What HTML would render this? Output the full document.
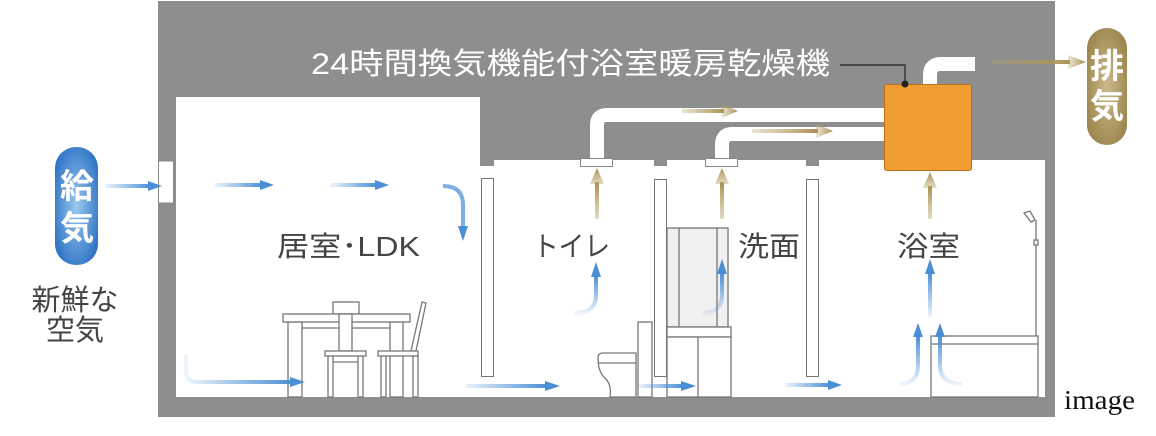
<!DOCTYPE html>
<html><head><meta charset="utf-8"><style>
html,body{margin:0;padding:0;background:#fff;}
svg{display:block}
.s{font-family:"Liberation Sans","Noto Sans CJK JP",sans-serif;}
</style></head><body>
<svg width="1156" height="436" viewBox="0 0 1156 436" xmlns="http://www.w3.org/2000/svg">
<defs>
<linearGradient id="bl" x1="0" x2="1" y1="0" y2="0"><stop offset="0" stop-color="#4a8fd6" stop-opacity="0.1"/><stop offset="1" stop-color="#4a8fd6"/></linearGradient>
<linearGradient id="blv" x1="0" x2="0" y1="1" y2="0"><stop offset="0" stop-color="#4a8fd6" stop-opacity="0.1"/><stop offset="1" stop-color="#4a8fd6"/></linearGradient>
<linearGradient id="gd" x1="0" x2="1"><stop offset="0" stop-color="#b9a46a" stop-opacity="0.3"/><stop offset="1" stop-color="#a89050"/></linearGradient>
<linearGradient id="gdv" x1="0" x2="0" y1="1" y2="0"><stop offset="0" stop-color="#b9a46a" stop-opacity="0.4"/><stop offset="1" stop-color="#a89050"/></linearGradient>
<radialGradient id="pb" cx="0.5" cy="0.5" r="0.6"><stop offset="0" stop-color="#9cc8f0"/><stop offset="1" stop-color="#2b72c4"/></radialGradient>
<radialGradient id="pg" cx="0.5" cy="0.5" r="0.6"><stop offset="0" stop-color="#c9b98a"/><stop offset="1" stop-color="#9b844c"/></radialGradient>
</defs>
<rect x="158" y="1" width="897" height="416" fill="#8e8e8e"/>
<path d="M176 97 H480 V166 H494 V160 H1045 V397 H176 Z" fill="#fff"/>
<rect x="654" y="160" width="13" height="6" fill="#8e8e8e"/>
<rect x="806" y="160" width="13" height="6" fill="#8e8e8e"/>
<rect x="158.5" y="161" width="15" height="42" fill="#fff" stroke="#888" stroke-width="1"/>
<path d="M597 160 V125 Q597 115 607 115 H890" fill="none" stroke="#fff" stroke-width="14"/>
<path d="M722 160 V145 Q722 134 732 134 H890" fill="none" stroke="#fff" stroke-width="14"/>
<path d="M930 90 V75 Q930 64 941 64 H975" fill="none" stroke="#fff" stroke-width="14"/>
<rect x="580.5" y="158.5" width="32" height="8" fill="#fff" stroke="#888"/>
<rect x="705.5" y="158.5" width="32" height="8" fill="#fff" stroke="#888"/>
<rect x="481.5" y="178.5" width="12" height="198" fill="#fff" stroke="#777"/>
<rect x="654.5" y="179.5" width="12" height="197" fill="#fff" stroke="#777"/>
<rect x="806.5" y="179.5" width="12" height="197" fill="#fff" stroke="#777"/>
<rect x="884.5" y="84.5" width="87" height="86" rx="2" fill="#f09d32" stroke="#b87020"/>
<path d="M840 65 H905 V84" fill="none" stroke="#222" stroke-width="1.2"/>
<circle cx="905" cy="84" r="3.5" fill="#222"/>
<text class="s" x="311" y="74" font-size="30" fill="#fff" textLength="519" lengthAdjust="spacingAndGlyphs">24時間換気機能付浴室暖房乾燥機</text>
<g fill="url(#gd)">
<rect x="682" y="109" width="42" height="4"/><polygon points="722,104 738,111 722,118"/>
<rect x="752" y="129" width="66" height="4"/><polygon points="816,124 833,131 816,138"/>
<rect x="992" y="60" width="78" height="4"/><polygon points="1068,55 1086,62 1068,69"/>
</g>
<g fill="url(#gdv)">
<rect x="595" y="182" width="4" height="37"/><polygon points="590,184 597,168 604,184"/>
<rect x="720" y="182" width="4" height="37"/><polygon points="715,184 722,168 729,184"/>
<rect x="928" y="186" width="4" height="33"/><polygon points="923,188 930,172 937,188"/>
</g>
<rect x="1087" y="28" width="40" height="117" rx="20" fill="url(#pg)"/>
<text class="s" x="1107" y="78" font-size="34" font-weight="bold" fill="#fff" text-anchor="middle">排</text>
<text class="s" x="1107" y="118" font-size="34" font-weight="bold" fill="#fff" text-anchor="middle">気</text>
<rect x="55" y="147" width="43" height="118" rx="21" fill="url(#pb)"/>
<text class="s" x="77" y="198" font-size="34" font-weight="bold" fill="#fff" text-anchor="middle">給</text>
<text class="s" x="77" y="240" font-size="34" font-weight="bold" fill="#fff" text-anchor="middle">気</text>
<text class="s" x="75" y="310" font-size="29" fill="#444" text-anchor="middle">新鮮な</text>
<text class="s" x="75" y="340" font-size="29" fill="#444" text-anchor="middle">空気</text>
<text class="s" x="277" y="256" font-size="28" fill="#444" textLength="143" lengthAdjust="spacingAndGlyphs">居室･LDK</text>
<text class="s" x="533" y="256" font-size="28" fill="#444" textLength="77" lengthAdjust="spacingAndGlyphs">トイレ</text>
<text class="s" x="738" y="256" font-size="28" fill="#444" textLength="62" lengthAdjust="spacingAndGlyphs">洗面</text>
<text class="s" x="897" y="256" font-size="28" fill="#444" textLength="63" lengthAdjust="spacingAndGlyphs">浴室</text>
<text x="1064" y="409" font-size="27" fill="#111" style="font-family:'Liberation Serif',serif" textLength="71" lengthAdjust="spacingAndGlyphs">image</text>
<g fill="#fff" stroke="#777" stroke-width="1.3">
<rect x="333" y="302" width="26" height="12"/>
<rect x="288" y="322" width="14" height="75"/><rect x="390" y="322" width="13" height="75"/>
<line x1="302" y1="328" x2="390" y2="328"/>
<rect x="283" y="314" width="127" height="8"/>
<rect x="339" y="314" width="13" height="37"/>
<rect x="328" y="356" width="5" height="41"/><rect x="358" y="356" width="5" height="41"/>
<rect x="325" y="351" width="41" height="5"/>
<line x1="333" y1="362" x2="358" y2="362"/>
<polygon points="411,351 422,302 426,303 416,351"/>
<rect x="381" y="356" width="5" height="41"/><rect x="413" y="356" width="5" height="41"/>
<rect x="378" y="351" width="40" height="5"/>
<rect x="638" y="322" width="14" height="75"/>
<path d="M598 358 Q598 353 603 353 H636 V397 H610 Q612 385 605 378 Q598 372 598 358 Z"/>
<line x1="599" y1="363" x2="636" y2="363"/>
<rect x="667" y="228" width="61" height="99" fill="#f0f0f0"/>
<line x1="679" y1="228" x2="679" y2="327"/><line x1="717" y1="228" x2="717" y2="327"/>
<rect x="667" y="327" width="64" height="10"/>
<rect x="667" y="337" width="64" height="60"/>
<line x1="698" y1="337" x2="698" y2="397"/>
<rect x="931" y="336" width="107" height="61"/>
<line x1="931" y1="344" x2="1038" y2="344"/>
<line x1="1036" y1="220" x2="1036" y2="336"/>
<rect x="1034" y="240" width="4" height="5"/>
<path d="M1024 213 L1030 211 L1035 220 L1031 222 Z"/>
</g>
<g fill="url(#bl)">
<rect x="215" y="183" width="47" height="4"/>
<rect x="330" y="183" width="47" height="4"/>
<rect x="105" y="184" width="45" height="4"/>
<rect x="465" y="384" width="82" height="4"/>
<rect x="638" y="384" width="45" height="4"/>
<rect x="785" y="383" width="45" height="4"/>
</g>
<rect x="928" y="272" width="4" height="45" fill="url(#blv)"/>
<g fill="none" stroke-width="4">
<path d="M443 186 Q463 186 463 205 V228" stroke="#7fb0e4"/>
<path d="M186 355 V372 Q186 382 198 382 H292" stroke="url(#bl)"/>
<path d="M575 313 Q596 313 596 295 V275" stroke="url(#blv)"/>
<path d="M703 313 Q722 313 722 295 V272" stroke="url(#blv)"/>
<path d="M900 384 Q918 384 918 365 V335" stroke="url(#blv)"/>
<path d="M962 384 Q940 384 940 365 V335" stroke="url(#blv)"/>
</g>
<g fill="#4a8fd6">
<polygon points="260,180 274,185 260,190"/>
<polygon points="375,180 389,185 375,190"/>
<polygon points="148,181 162,186 148,191"/>
<polygon points="458,226 463,241 468,226"/>
<polygon points="290,377 305,382 290,387"/>
<polygon points="545,381 560,386 545,391"/>
<polygon points="681,381 696,386 681,391"/>
<polygon points="828,380 842,385 828,390"/>
<polygon points="591,277 596,262 601,277"/>
<polygon points="717,274 722,259 727,274"/>
<polygon points="925,274 930,259 935,274"/>
<polygon points="913,337 918,323 923,337"/>
<polygon points="935,337 940,323 945,337"/>
</g>
</svg>
</body></html>
